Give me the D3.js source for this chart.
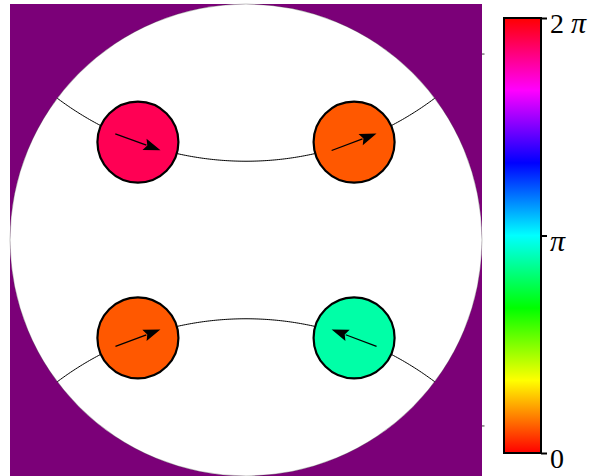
<!DOCTYPE html>
<html>
<head>
<meta charset="utf-8">
<script src="https://cdn.jsdelivr.net/npm/d3@7"></script>
<style>
  html, body { margin: 0; padding: 0; background: #ffffff; }
  svg { display: block; }
  text { font-family: "Liberation Serif", "Times New Roman", serif; }
</style>
</head>
<body>
<svg id="chart" width="589" height="476"></svg>
<script>
// Vortex centres in the Poincaré disk (unit radius) and their phase angles (radians)
const vortexX = [-0.458, 0.458, -0.458, 0.458];
const vortexY = [0.415, 0.415, -0.415, -0.415];
const vortexPhase = [5.94, 0.36, 0.36, 2.78];

// Colour bar ticks
const cbarTicks = [0, Math.PI, 2 * Math.PI];
const cbarTickLabels = ["0", "π", "2 π"];

// Geodesics drawn through each pair of vortices (pairs of indices)
const geodesicPairs = [[0, 1], [2, 3]];

const W = 589, H = 476;
const svg = d3.select("#chart");

// Plot area: square axes holding the disk
const plot = { left: 10, top: 4, size: 472 };
const x = d3.scaleLinear().domain([-1, 1]).range([plot.left, plot.left + plot.size]);
const y = d3.scaleLinear().domain([-1, 1]).range([plot.top + plot.size, plot.top]);
const pxPerUnit = x(1) - x(0);

const hsv = a => {
  const h = ((a % (2 * Math.PI)) + 2 * Math.PI) % (2 * Math.PI) * 180 / Math.PI;
  return d3.hsl(h, 1, 0.5).formatHex();
};

// Background outside the disk
svg.append("rect")
  .attr("x", plot.left).attr("y", plot.top)
  .attr("width", plot.size).attr("height", H - plot.top)
  .attr("fill", "#7b0078");

// Right-hand axis tick marks
svg.append("g").selectAll("line")
  .data([0.788, -0.788])
  .join("line")
  .attr("x1", x(1)).attr("x2", x(1) + 2.5)
  .attr("y1", d => y(d)).attr("y2", d => y(d))
  .attr("stroke", "#3a3a3a").attr("stroke-width", 1);

// The disk
svg.append("circle")
  .attr("cx", x(0)).attr("cy", y(0))
  .attr("r", pxPerUnit)
  .attr("fill", "#ffffff")
  .attr("stroke", "#333").attr("stroke-width", 0.3);

// Geodesics: circles orthogonal to the unit circle through two vortex centres
const line = d3.line().x(p => x(p[0])).y(p => y(p[1]));
geodesicPairs.forEach(([i, j]) => {
  const a = Math.abs(vortexX[i]), b = vortexY[i];
  const c = (a * a + b * b + 1) / (2 * b);       // centre (0, c)
  const r = Math.sqrt(c * c - 1);                // radius
  const yi = 1 / c, xi = Math.sqrt(1 - yi * yi); // intersection with unit circle
  const t0 = Math.atan2(yi - c, -xi), t1 = Math.atan2(yi - c, xi);
  const pts = d3.range(0, 201).map(k => {
    const t = t0 + (t1 - t0) * k / 200;
    return [r * Math.cos(t), c + r * Math.sin(t)];
  });
  svg.append("path")
    .attr("d", line(pts))
    .attr("fill", "none")
    .attr("stroke", "#000").attr("stroke-width", 1);
});

// Vortices
const vortexR = 0.1716;
const arrowLen = 48, headLen = 17, headHalf = 6;
const vortices = svg.append("g").selectAll("g")
  .data(vortexX.map((vx, i) => ({ x: vortexX[i], y: vortexY[i], phase: vortexPhase[i] })))
  .join("g")
  .attr("transform", d => `translate(${x(d.x)},${y(d.y)})`);

vortices.append("circle")
  .attr("r", vortexR * pxPerUnit)
  .attr("fill", d => hsv(d.phase))
  .attr("stroke", "#000").attr("stroke-width", 2.2);

const arrow = vortices.append("g")
  .attr("transform", d => `rotate(${-d.phase * 180 / Math.PI})`);
arrow.append("line")
  .attr("x1", -arrowLen / 2).attr("y1", 0)
  .attr("x2", arrowLen / 2 - headLen + 2).attr("y2", 0)
  .attr("stroke", "#000").attr("stroke-width", 1.3);
arrow.append("path")
  .attr("d", `M${arrowLen / 2},0 L${arrowLen / 2 - headLen},${-headHalf} L${arrowLen / 2 - headLen + 3},0 L${arrowLen / 2 - headLen},${headHalf} Z`)
  .attr("fill", "#000");

// Colour bar
const cb = { x: 504, w: 37, top: 18, bottom: 453 };
const cbScale = d3.scaleLinear().domain([0, 2 * Math.PI]).range([cb.bottom, cb.top]);
const grad = svg.append("defs").append("linearGradient")
  .attr("id", "phaseGrad")
  .attr("x1", 0).attr("y1", 1).attr("x2", 0).attr("y2", 0);
d3.range(0, 7).forEach(k => {
  const v = k / 6 * 2 * Math.PI;
  grad.append("stop").attr("offset", k / 6).attr("stop-color", hsv(v === 2 * Math.PI ? 0 : v));
});
svg.append("rect")
  .attr("x", cb.x).attr("y", cb.top)
  .attr("width", cb.w).attr("height", cb.bottom - cb.top)
  .attr("fill", "url(#phaseGrad)")
  .attr("stroke", "#000").attr("stroke-width", 2);

const cbAxis = d3.axisRight(cbScale)
  .tickValues(cbarTicks)
  .tickFormat((d, i) => cbarTickLabels[i])
  .tickSize(6).tickPadding(3);
const cbG = svg.append("g")
  .attr("transform", `translate(${cb.x + cb.w},0)`)
  .call(cbAxis);
cbG.select(".domain").remove();
cbG.selectAll(".tick line").attr("stroke", "#000").attr("stroke-width", 2);

// Tick labels: digits upright, π set in italic
cbG.selectAll(".tick text").each(function (d, i) {
  const t = d3.select(this);
  const label = cbarTickLabels[i];
  t.text(null)
    .attr("fill", "#000")
    .attr("font-family", "Liberation Serif, serif")
    .attr("font-size", 28)
    .attr("dy", "0.52em");
  label.split(/(π)/).filter(s => s.length).forEach(part => {
    t.append("tspan")
      .attr("font-style", part === "π" ? "italic" : "normal")
      .attr("font-size", part === "π" ? 30 : 28)
      .text(part);
  });
});
</script>
</body>
</html>
